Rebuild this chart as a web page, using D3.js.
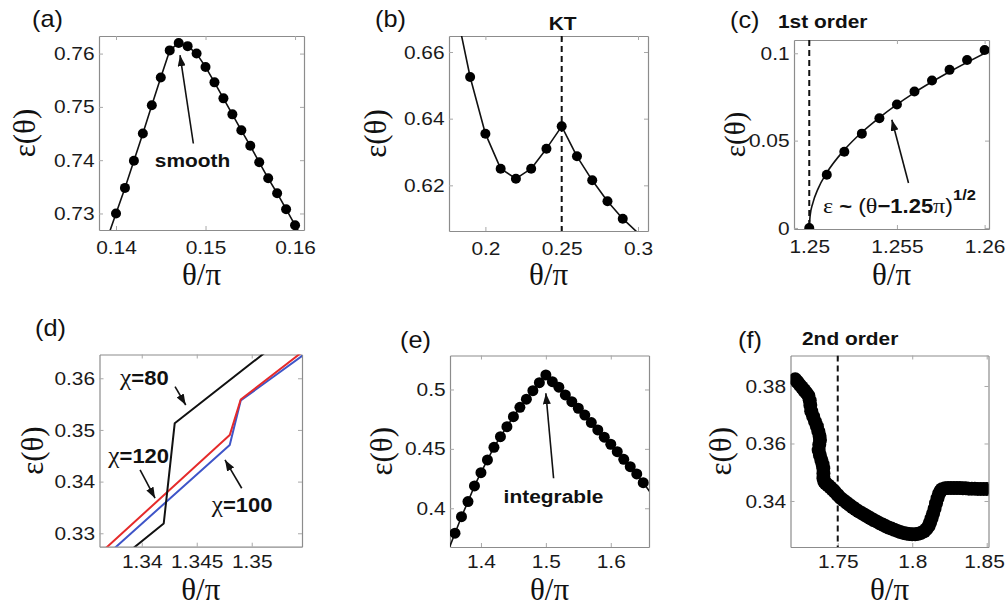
<!DOCTYPE html>
<html><head><meta charset="utf-8">
<script src="https://cdn.jsdelivr.net/npm/d3@7"></script>
<style>body{margin:0;background:#fff;}svg{display:block;}</style>
</head><body>
<svg id="chart" width="1006" height="606"></svg>
<script>
// ---------------- DATA ----------------
// (a) smooth
const aX = [0.140,0.141,0.142,0.143,0.144,0.145,0.146,0.147,0.148,0.149,0.150,0.151,0.152,0.153,0.154,0.155,0.156,0.157,0.158,0.159,0.160];
const aY = [0.7300,0.7348,0.7399,0.7450,0.7503,0.7555,0.7606,0.7620,0.7614,0.7600,0.7575,0.7546,0.7516,0.7486,0.7456,0.7427,0.7396,0.7366,0.7338,0.7308,0.7278];
const aEndX = [0.139, 0.161];
const aEndY = [0.7252, 0.7249];
const aXTicks = [0.14, 0.15, 0.16], aXLabels = ["0.14","0.15","0.16"];
const aYTicks = [0.73, 0.74, 0.75, 0.76], aYLabels = ["0.73","0.74","0.75","0.76"];

// (b) KT
const bX = [0.19,0.20,0.21,0.22,0.23,0.24,0.25,0.26,0.27,0.28,0.29];
const bY = [0.6525,0.6355,0.6250,0.6220,0.6250,0.6310,0.6377,0.6287,0.6215,0.6152,0.6100];
const bEndX = [0.18, 0.30];
const bEndY = [0.6745, 0.6057];
const bCritical = 0.25;
const bXTicks = [0.2, 0.25, 0.3], bXLabels = ["0.2","0.25","0.3"];
const bYTicks = [0.62, 0.64, 0.66], bYLabels = ["0.62","0.64","0.66"];

// (c) 1st order
const cX = [1.250,1.251,1.252,1.253,1.254,1.255,1.256,1.257,1.258,1.259,1.260];
const cY = [0,0.0305,0.0436,0.0540,0.0628,0.0707,0.0781,0.0844,0.0905,0.0962,0.1019];
const cFitX = [1.25,1.25005,1.2502,1.2505,1.251,1.252,1.253,1.254,1.256,1.258,1.2603];
const cFitY = [0,0.0071,0.0141,0.0224,0.0316,0.0447,0.0548,0.0632,0.0775,0.0894,0.1015];
const cCritical = 1.25;
const cXTicks = [1.25, 1.255, 1.26], cXLabels = ["1.25","1.255","1.26"];
const cYTicks = [0, 0.05, 0.1], cYLabels = ["0","0.05","0.1"];

// (d) chi comparison
const d80X  = [1.338, 1.342, 1.343, 1.352];
const d80Y  = [0.3250, 0.3319, 0.3513, 0.3663];
const d100X = [1.336, 1.348, 1.349, 1.356];
const d100Y = [0.3242, 0.3471, 0.3557, 0.3665];
const d120X = [1.336, 1.348, 1.349, 1.356];
const d120Y = [0.3257, 0.3490, 0.3559, 0.3674];
const dXTicks = [1.34, 1.345, 1.35], dXLabels = ["1.34","1.345","1.35"];
const dYTicks = [0.33, 0.34, 0.35, 0.36], dYLabels = ["0.33","0.34","0.35","0.36"];

// (e) integrable
const eX = [1.36,1.37,1.38,1.39,1.40,1.41,1.42,1.43,1.44,1.45,1.46,1.47,1.48,1.49,1.50,1.51,1.52,1.53,1.54,1.55,1.56,1.57,1.58,1.59,1.60,1.61,1.62,1.63,1.64,1.65];
const eY = [0.3790,0.3929,0.4056,0.4188,0.4300,0.4407,0.4513,0.4603,0.4687,0.4771,0.4850,0.4918,0.4990,0.5057,0.5122,0.5066,0.5019,0.4954,0.4897,0.4842,0.4785,0.4721,0.4659,0.4598,0.4539,0.4476,0.4412,0.4350,0.4289,0.4215];
const eEndX = [1.35, 1.66];
const eEndY = [0.365, 0.414];
const eXTicks = [1.4, 1.5, 1.6], eXLabels = ["1.4","1.5","1.6"];
const eYTicks = [0.4, 0.45, 0.5], eYLabels = ["0.4","0.45","0.5"];

// (f) 2nd order
const fX = [1.7215,1.7230,1.7245,1.7260,1.7275,1.7290,1.7303,1.7312,1.7316,1.7322,1.7335,1.7348,1.7360,1.7370,1.7378,1.7381,1.7376,1.7372,1.7380,1.7390,1.7398,1.7403,1.7404,1.7404,1.7410,1.7420,1.7435,1.7450,1.7465,1.7480,1.7500,
  1.752,1.754,1.756,1.758,1.760,1.762,1.764,1.766,1.768,1.770,1.772,1.774,1.776,1.778,1.780,1.782,1.784,1.786,1.788,1.790,1.792,1.794,1.796,1.798,1.800,1.802,1.804,1.806,1.808,1.8095,1.811,1.812,1.813,1.814,1.815,1.816,1.817,1.818,1.819,1.820,1.822,1.824,1.826,1.828,1.830,1.832,1.834,1.836,1.838,1.840,1.842,1.844,1.846,1.848,1.850];
const fY = [0.3823,0.3814,0.3804,0.3795,0.3785,0.3776,0.3766,0.3750,0.3734,0.3712,0.3694,0.3676,0.3660,0.3642,0.3626,0.3612,0.3596,0.3577,0.3560,0.3543,0.3528,0.3514,0.3496,0.3479,0.3467,0.3461,0.3455,0.3448,0.3440,0.3432,0.3421,
  0.3410,0.3402,0.3394,0.3386,0.3378,0.3371,0.3364,0.3358,0.3352,0.3346,0.3340,0.3334,0.3329,0.3323,0.3318,0.3313,0.3308,0.3304,0.3300,0.3296,0.3292,0.3289,0.3287,0.3285,0.3284,0.3284,0.3286,0.3289,0.3295,0.3302,0.3313,0.3325,0.3340,0.3356,0.3373,0.3392,0.3410,0.3425,0.3435,0.3441,0.3444,0.3445,0.3445,0.3445,0.3445,0.3445,0.3444,0.3444,0.3443,0.3443,0.3443,0.3442,0.3442,0.3442,0.3442];
const fCritical = 1.75;
const fXTicks = [1.75, 1.8, 1.85], fXLabels = ["1.75","1.8","1.85"];
const fYTicks = [0.34, 0.36, 0.38], fYLabels = ["0.34","0.36","0.38"];

// ---------------- DRAWING ----------------
const svg = d3.select("#chart");
const SANS = "'Liberation Sans', Arial, Helvetica, sans-serif";
const SERIF = "'Liberation Serif', 'Times New Roman', Times, serif";
const SX = 1.1;
const defs = svg.append("defs");
defs.append("marker").attr("id","ah").attr("viewBox","0 0 11 8")
  .attr("refX",11).attr("refY",4).attr("markerWidth",11).attr("markerHeight",8)
  .attr("markerUnits","userSpaceOnUse").attr("orient","auto")
  .append("path").attr("d","M0,0 L11,4 L0,8 Z").attr("fill","#111");

const zip = (xs, ys) => xs.map((v,i)=>[v, ys[i]]);

function panel(cfg){
  const b = cfg.box;
  const x = d3.scaleLinear().domain(cfg.xDom).range([b[0], b[1]]);
  const y = d3.scaleLinear().domain(cfg.yDom).range([b[3], b[2]]);
  const g = svg.append("g");
  defs.append("clipPath").attr("id","clip"+cfg.id).append("rect")
    .attr("x",b[0]).attr("y",b[2]).attr("width",b[1]-b[0]).attr("height",b[3]-b[2]);
  const styleAxis = sel => {
    sel.attr("font-family", SANS).attr("font-size", 19);
    sel.select(".domain").attr("stroke","#8c8c8c").attr("stroke-width",1.2);
    sel.selectAll(".tick line").attr("stroke","#a8a8a8").attr("stroke-width",1);
    sel.selectAll("text").attr("fill","#1a1a1a").attr("transform",`scale(${SX},1)`);
  };
  const xb = g.append("g").attr("transform",`translate(0,${b[3]})`)
    .call(d3.axisBottom(x).tickValues(cfg.xTicks).tickFormat((d,i)=>cfg.xLabels[i]).tickSizeInner(-4).tickSizeOuter(0).tickPadding(cfg.xPad))
    .call(styleAxis);
  if (cfg.lastDx) xb.selectAll("text").filter((d,i,n)=>i===n.length-1).attr("dx", cfg.lastDx);
  g.append("g").attr("transform",`translate(0,${b[2]})`)
    .call(d3.axisTop(x).tickValues(cfg.xTicks).tickFormat("").tickSizeInner(-4).tickSizeOuter(0))
    .call(styleAxis);
  g.append("g").attr("transform",`translate(${b[0]},0)`)
    .call(d3.axisLeft(y).tickValues(cfg.yTicks).tickFormat((d,i)=>cfg.yLabels[i]).tickSizeInner(-4).tickSizeOuter(0).tickPadding(4))
    .call(styleAxis);
  g.append("g").attr("transform",`translate(${b[1]},0)`)
    .call(d3.axisRight(y).tickValues(cfg.yTicks).tickFormat("").tickSizeInner(-4).tickSizeOuter(0))
    .call(styleAxis);
  // axis titles
  g.append("text").attr("transform",`translate(${(b[0]+b[1])/2},${cfg.xTitleY})`)
    .attr("text-anchor","middle").attr("font-family",SERIF).attr("font-size",31).attr("fill","#111").text("θ/π");
  g.append("text").attr("transform",`translate(${cfg.yTitleX},${(b[2]+b[3])/2}) rotate(-90)`)
    .attr("text-anchor","middle").attr("dy","0.33em").attr("font-family",SERIF).attr("font-size",cfg.yTitleSize || 31).attr("fill","#111").text("ε(θ)");
  // panel letter
  g.append("text").attr("transform",`translate(${cfg.tag[0]},${cfg.tag[1]}) scale(${SX},1)`)
    .attr("font-family",SANS).attr("font-size",23).attr("fill","#111").text(cfg.tagText);
  const plot = g.append("g").attr("clip-path",`url(#clip${cfg.id})`);
  return {x, y, g, plot, b};
}

function drawLine(P, pts, color, width, curve){
  const line = d3.line().x(d=>P.x(d[0])).y(d=>P.y(d[1])).curve(curve || d3.curveLinear);
  P.plot.append("path").attr("d", line(pts)).attr("fill","none").attr("stroke",color).attr("stroke-width",width).attr("stroke-linejoin","round");
}
function drawDots(P, pts, r){
  P.plot.append("g").selectAll("circle").data(pts).join("circle")
    .attr("cx",d=>P.x(d[0])).attr("cy",d=>P.y(d[1])).attr("r",r).attr("fill","#000");
}
function drawVDash(P, xv){
  P.plot.append("line").attr("x1",P.x(xv)).attr("x2",P.x(xv)).attr("y1",P.b[2]).attr("y2",P.b[3])
    .attr("stroke","#111").attr("stroke-width",2).attr("stroke-dasharray","6,4");
}
function arrow(P, x1, y1, x2, y2){
  P.g.append("line").attr("x1",P.x(x1)).attr("y1",P.y(y1)).attr("x2",P.x(x2)).attr("y2",P.y(y2))
    .attr("stroke","#111").attr("stroke-width",1.6).attr("marker-end","url(#ah)");
}
function richText(parent, px, py, parts, anchor){
  const t = parent.append("text").attr("transform",`translate(${px},${py}) scale(${SX},1)`)
    .attr("text-anchor", anchor || "start").attr("fill","#111");
  parts.forEach(p => {
    t.append("tspan").attr("font-family", p.serif ? SERIF : SANS)
      .attr("font-weight", p.bold ? "bold" : "normal")
      .attr("font-size", p.size).attr("dy", p.dy || 0).text(p.t);
  });
  return t;
}

// ---- panel (a)
const A = panel({id:"a", box:[99,304,36,230], xDom:[0.1381,0.1610], yDom:[0.7269,0.7633],
  xTicks:aXTicks, xLabels:aXLabels, yTicks:aYTicks, yLabels:aYLabels, xPad:10.5,
  xTitleY:285, yTitleX:25, tag:[32,27], tagText:"(a)"});
drawLine(A, [[aEndX[0],aEndY[0]], ...zip(aX,aY), [aEndX[1],aEndY[1]]], "#111", 1.6);
drawDots(A, zip(aX,aY), 5);
arrow(A, 0.14864, 0.74313, 0.14715, 0.7597);
richText(A.g, A.x(0.14855), A.y(0.73878), [{t:"smooth", bold:true, size:19}], "middle");

// ---- panel (b)
const B = panel({id:"b", box:[449,648,36,231], xDom:[0.17615,0.30655], yDom:[0.6063,0.6648],
  xTicks:bXTicks, xLabels:bXLabels, yTicks:bYTicks, yLabels:bYLabels, xPad:10.5,
  xTitleY:285, yTitleX:376, tag:[375,27], tagText:"(b)"});
drawVDash(B, bCritical);
drawLine(B, [[bEndX[0],bEndY[0]], ...zip(bX,bY), [bEndX[1],bEndY[1]]], "#111", 1.6);
drawDots(B, zip(bX,bY), 5);
richText(B.g, B.x(bCritical)+1, 30, [{t:"KT", bold:true, size:19}], "middle");

// ---- panel (c)
const C = panel({id:"c", box:[794,989,40,229], xDom:[1.24913,1.26025], yDom:[-0.0006,0.1076],
  xTicks:cXTicks, xLabels:cXLabels, yTicks:cYTicks, yLabels:cYLabels, xPad:10.5,
  xTitleY:285, yTitleX:735, yTitleSize:29, tag:[730,28], tagText:"(c)"});
drawVDash(C, cCritical);
drawLine(C, zip(cFitX,cFitY), "#111", 1.6, d3.curveMonotoneX);
drawDots(C, zip(cX,cY), 5);
richText(C.g, 778, 28, [{t:"1st order", bold:true, size:19}]);
arrow(C, 1.25566, 0.0257, 1.25471, 0.0619);
richText(C.g, C.x(1.25078), C.y(0.0087), [
  {t:"ε", serif:true, size:22},
  {t:" ~ ", bold:true, size:20},
  {t:"(", size:21},
  {t:"θ", serif:true, size:22},
  {t:"−1.25", bold:true, size:20},
  {t:"π", serif:true, size:22},
  {t:")", size:21},
  {t:"1/2", bold:true, size:15, dy:-13}
]);

// ---- panel (d)
const D = panel({id:"d", box:[99.5,302,354.5,546.7], xDom:[1.33616,1.35457], yDom:[0.3274,0.3646],
  xTicks:dXTicks, xLabels:dXLabels, yTicks:dYTicks, yLabels:dYLabels, xPad:7.5,
  xTitleY:599.5, yTitleX:33, tag:[35,336], tagText:"(d)"});
drawLine(D, zip(d100X,d100Y), "#3f55c8", 2);
drawLine(D, zip(d120X,d120Y), "#e52b2b", 2);
drawLine(D, zip(d80X,d80Y), "#111", 2);
richText(D.g, D.x(1.33803), D.y(0.3587), [{t:"χ", serif:true, size:23},{t:"=80", bold:true, size:20}]);
arrow(D, 1.34303, 0.35837, 1.34400, 0.35483);
richText(D.g, D.x(1.33696), D.y(0.34361), [{t:"χ", serif:true, size:23},{t:"=120", bold:true, size:20}]);
arrow(D, 1.33985, 0.34225, 1.34121, 0.33678);
richText(D.g, D.x(1.34636), D.y(0.33413), [{t:"χ", serif:true, size:23},{t:"=100", bold:true, size:20}]);
arrow(D, 1.34909, 0.33871, 1.34757, 0.34419);

// ---- panel (e)
const E = panel({id:"e", box:[450,649,355.5,547], xDom:[1.3523,1.6589], yDom:[0.3674,0.5286],
  xTicks:eXTicks, xLabels:eXLabels, yTicks:eYTicks, yLabels:eYLabels, xPad:7.5,
  xTitleY:599.5, yTitleX:382, tag:[400,348], tagText:"(e)"});
drawLine(E, [[eEndX[0],eEndY[0]], ...zip(eX,eY), [eEndX[1],eEndY[1]]], "#111", 1.6);
drawDots(E, zip(eX,eY), 5.5);
arrow(E, 1.51189, 0.42525, 1.5, 0.4968);
richText(E.g, E.x(1.51185), E.y(0.40446), [{t:"integrable", bold:true, size:19}], "middle");

// ---- panel (f)
const F = panel({id:"f", box:[790.5,988.5,355.5,547], xDom:[1.7183,1.8512], yDom:[0.324,0.3906],
  xTicks:fXTicks, xLabels:fXLabels, yTicks:fYTicks, yLabels:fYLabels, xPad:7.5, lastDx:-2.5,
  xTitleY:599.5, yTitleX:721, tag:[738,348], tagText:"(f)"});
drawVDash(F, fCritical);
drawDots(F, zip(fX,fY), 7);
richText(F.g, 802, 345, [{t:"2nd order", bold:true, size:19}]);
</script>
</body></html>
